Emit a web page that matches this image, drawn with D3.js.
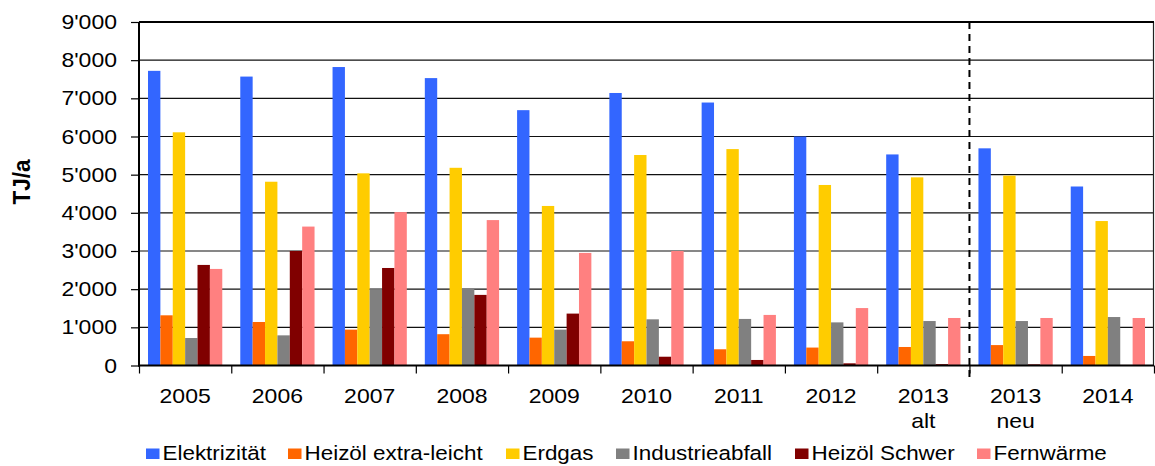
<!DOCTYPE html>
<html><head><meta charset="utf-8">
<script src="https://cdn.jsdelivr.net/npm/d3@7"></script>
<style>body{margin:0;background:#fff}svg{display:block}text{font-family:"Liberation Sans",Arial,sans-serif;fill:#000}</style>
</head><body>
<svg id="c" width="1155" height="466"></svg>
<script>
const categories = [["2005"],["2006"],["2007"],["2008"],["2009"],["2010"],["2011"],["2012"],["2013","alt"],["2013","neu"],["2014"]];
const seriesNames = ["Elektrizität","Heizöl extra-leicht","Erdgas","Industrieabfall","Heizöl Schwer","Fernwärme"];
const seriesColors = ["#3366FF","#FF6600","#FFCC00","#808080","#800000","#FF8080"];
const elektrizitaet = [7720,7570,7820,7530,6690,7140,6890,6000,5530,5690,4690];
const heizoelExtraLeicht = [1315,1140,940,820,730,635,425,470,485,535,250];
const erdgas = [6110,4815,5035,5180,4180,5515,5670,4730,4930,4975,3785];
const industrieabfall = [720,790,2000,2010,940,1210,1220,1130,1165,1165,1270];
const heizoelSchwer = [2635,3000,2555,1850,1360,230,145,57,35,30,15];
const fernwaerme = [2530,3640,4020,3810,2950,3000,1325,1505,1245,1245,1245];
const yTicks = [0,1000,2000,3000,4000,5000,6000,7000,8000,9000];
const yTitle = "TJ/a";
const dividerAfter = 8; // dashed line after "2013 alt"

const values = [elektrizitaet,heizoelExtraLeicht,erdgas,industrieabfall,heizoelSchwer,fernwaerme];
const svg = d3.select("#c");
const L=139, R=1154, T=22, B=365.5;
const SX = 1.15; // horizontal stretch of the reference text
const x = d3.scaleBand().domain(d3.range(categories.length)).range([L,R]).padding(0);
const xs = d3.scaleBand().domain(d3.range(seriesNames.length)).range([9, x.bandwidth()-9]).padding(0);
const y = d3.scaleLinear().domain([0,9000]).range([B,T]);
const fmt = v => { const s = String(v); return s.length>3 ? s.slice(0,-3)+"'"+s.slice(-3) : s; };

// gridlines
svg.append("g").selectAll("line").data(yTicks.filter(d=>d>0)).join("line")
  .attr("x1",L).attr("x2",R).attr("y1",d=>y(d)).attr("y2",d=>y(d))
  .attr("stroke","#111").attr("stroke-width",1.2);
// right border
svg.append("line").attr("x1",R-0.5).attr("x2",R-0.5).attr("y1",T).attr("y2",B).attr("stroke","#222").attr("stroke-width",1.2);
// top border thick
svg.append("line").attr("x1",L).attr("x2",R).attr("y1",T).attr("y2",T).attr("stroke","#000").attr("stroke-width",2.2);

// bars
const g = svg.append("g");
values.forEach((arr,si)=>{
  g.append("g").selectAll("rect").data(arr).join("rect")
    .attr("x",(d,i)=>x(i)+xs(si)).attr("width",xs.bandwidth())
    .attr("y",d=>y(d)).attr("height",d=>B-y(d))
    .attr("fill",seriesColors[si]);
});

// y axis
const yAxis = d3.axisLeft(y).tickValues(yTicks).tickSize(8).tickPadding(0).tickFormat(()=> "");
const ya = svg.append("g").attr("transform",`translate(${L},0)`).call(yAxis);
ya.select(".domain").attr("stroke","#000").attr("stroke-width",2).attr("d",`M0,${T}V${B+1}`);
ya.selectAll(".tick line").attr("stroke","#000").attr("stroke-width",1.2);
svg.append("g").selectAll("text").data(yTicks).join("text")
  .attr("transform",d=>`translate(117,${y(d)+7}) scale(${SX},1)`)
  .attr("text-anchor","end").style("font-size","20px").text(fmt);

// x axis
const xb = d3.scaleLinear().domain([0,categories.length]).range([L,R]);
const xa = svg.append("g").attr("transform",`translate(0,${B})`)
  .call(d3.axisBottom(xb).tickValues(d3.range(categories.length+1)).tickSize(8).tickFormat(()=> ""));
xa.select(".domain").attr("stroke","#000").attr("stroke-width",2).attr("d",`M${L-1},0H${R}`);
xa.selectAll(".tick line").attr("stroke","#000").attr("stroke-width",1.2);
const cl = svg.append("g").selectAll("text").data(categories).join("text")
  .attr("transform",(d,i)=>`translate(${x(i)+x.bandwidth()/2},403) scale(${SX},1)`)
  .attr("text-anchor","middle").style("font-size","20px");
cl.selectAll("tspan").data(d=>d).join("tspan").attr("x",0).attr("dy",(d,j)=>j?25.5:0).text(d=>d);

// dashed divider
const dx = xb(dividerAfter+1);
svg.append("line").attr("x1",dx).attr("x2",dx).attr("y1",T).attr("y2",378)
  .attr("stroke","#000").attr("stroke-width",2).attr("stroke-dasharray","7,5");

// y title
svg.append("text").attr("transform","translate(30,182) rotate(-90) scale(1,1.1)")
  .attr("text-anchor","middle").style("font-size","22.5px").style("font-weight","bold").text(yTitle);

// legend
const legendX = [146,288,506,616,795,977];
const lg = svg.append("g");
seriesNames.forEach((n,i)=>{
  lg.append("rect").attr("x",legendX[i]).attr("y",448.5).attr("width",13.5).attr("height",10.5).attr("fill",seriesColors[i]);
  lg.append("text").attr("transform",`translate(${legendX[i]+16.5},460) scale(1.15,1)`).style("font-size","19.5px").text(n);
});
</script>
</body></html>
